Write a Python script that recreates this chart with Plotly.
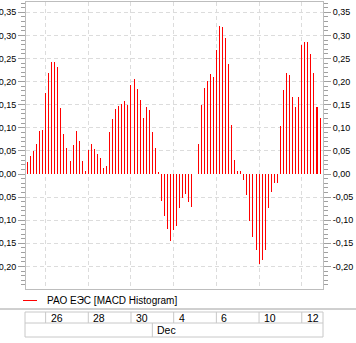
import plotly.graph_objects as go

# ---------------- data ----------------
macd_hist = [
    0.026, 0.039, 0.050, 0.065, 0.093, 0.096, 0.175, 0.218, 0.242, 0.242,
    0.231, 0.143, 0.086, 0.056, 0.028, 0.063, 0.093, 0.071, 0.028, 0.0065,
    0.052, 0.065, 0.054, 0.043, 0.035, 0.013, 0.017, 0.091, 0.119, 0.140,
    0.147, 0.151, 0.158, 0.149, 0.192, 0.205, 0.184, 0.160, 0.121, 0.145,
    0.138, 0.091, 0.056, 0.0043, -0.058, -0.091, -0.119, -0.145, -0.121, -0.112,
    -0.073, -0.052, -0.043, -0.060, -0.071, 0.0, 0.065, 0.149, 0.186, 0.201,
    0.216, 0.2095, 0.268, 0.320, 0.3175, 0.294, 0.238, 0.106, 0.030, 0.0065,
    0.0065, -0.013, -0.045, -0.1015, -0.136, -0.164, -0.194, -0.186, -0.165, -0.073,
    -0.039, -0.019, -0.019, 0.104, 0.181, 0.218, 0.214, 0.166, 0.145, 0.166,
    0.279, 0.285, 0.285, 0.259, 0.218, 0.145, 0.121,
]
day_labels = ["23", "26", "27", "28", "29", "30", "3", "4", "5", "6", "7", "10", "11", "12"]
bars_per_day = [6, 7, 7, 7, 7, 7, 7, 7, 7, 7, 7, 7, 7, 7]
day_months = ["Nov"] * 6 + ["Dec"] * 8
shown_days = ["26", "28", "30", "4", "6", "10", "12"]
y_ticks = [0.35, 0.30, 0.25, 0.20, 0.15, 0.10, 0.05, 0.00, -0.05, -0.10, -0.15, -0.20]
y_tick_text = [f"{v:.2f}".replace(".", ",") for v in y_ticks]
series_name = "РАО ЕЭС [MACD Histogram]"

# ---------------- derived positions ----------------
day_start = []
acc = 0
for n in bars_per_day:
    day_start.append(acc)
    acc += n
tick_pos = [day_start[day_labels.index(d)] for d in shown_days]
month_starts = []
for i, m in enumerate(day_months):
    if i > 0 and m != day_months[i - 1]:
        month_starts.append((day_start[i], m))

W, H = 356, 343
L, R, T, B = 26, 323, 2, 289
PW, PH = R - L, B - T


def px_x(px):
    return (px - L) / PW


def px_y(py):
    return (B - py) / PH


y_range = [-(B - 174) / 462.0, (174 - T) / 462.0]
x_range = [-0.43, 96.97]

FONT = "Liberation Sans, Arial, sans-serif"
GRID = "#dcdcdc"
BORDER = "#bdbdbd"

fig = go.Figure()
fig.add_trace(go.Bar(
    x=list(range(len(macd_hist))), y=macd_hist, width=0.33,
    marker=dict(color="rgba(255,0,0,0.999)", line=dict(width=0)),
    showlegend=False, hoverinfo="skip",
))
fig.add_trace(go.Scatter(x=[None], y=[None], yaxis="y2", showlegend=False, hoverinfo="skip"))

axis_common = dict(
    range=y_range, tickmode="array", tickvals=y_ticks, ticktext=y_tick_text,
    ticks="outside", ticklen=7, tickcolor="#a0a0a0", tickwidth=1,
    tickfont=dict(family=FONT, size=9, color="#000"),
    minor=dict(tickmode="linear", tick0=0, dtick=0.01, ticks="outside", ticklen=4,
               tickcolor="#a0a0a0", showgrid=False),
    showline=True, linecolor=BORDER, linewidth=1, automargin=False,
)

fig.update_layout(
    width=W, height=H,
    margin=dict(l=L, r=W - R, t=T, b=H - B, pad=0, autoexpand=False),
    paper_bgcolor="white", plot_bgcolor="white",
    bargap=0,
    xaxis=dict(range=x_range, tickmode="array", tickvals=tick_pos, showticklabels=False,
               ticks="", showgrid=True, gridcolor=GRID, griddash="4px,3px", gridwidth=1,
               zeroline=False, showline=True, linecolor=BORDER, mirror=True, automargin=False),
    yaxis=dict(**axis_common, side="left", showgrid=True, gridcolor=GRID,
               griddash="4px,3px", zeroline=True, zerolinecolor="white", zerolinewidth=1),
    yaxis2=dict(**axis_common, side="right", overlaying="y", showgrid=False, zeroline=False),
)

shapes = []
annots = []
# legend
shapes.append(dict(type="line", xref="paper", yref="paper", x0=px_x(23), x1=px_x(37),
                   y0=px_y(300.5), y1=px_y(300.5), line=dict(color="#ff0000", width=1)))
annots.append(dict(xref="paper", yref="paper", x=px_x(45), y=px_y(300.5), text=series_name,
                   showarrow=False, xanchor="left", yanchor="middle",
                   font=dict(family=FONT, size=10, color="#000")))
# separator
shapes.append(dict(type="line", xref="paper", yref="paper", x0=px_x(0), x1=px_x(W),
                   y0=px_y(309), y1=px_y(309), line=dict(color="#a0a0a0", width=1)))
# date table
TB = "#c8c8c8"
r1, r2, r3 = 312, 323, 337
for yy in (r1, r2, r3):
    shapes.append(dict(type="line", xref="paper", yref="paper", x0=px_x(25), x1=px_x(R),
                       y0=px_y(yy), y1=px_y(yy), line=dict(color=TB, width=1)))
for xx in (25, R):
    shapes.append(dict(type="line", xref="paper", yref="paper", x0=px_x(xx), x1=px_x(xx),
                       y0=px_y(r1), y1=px_y(r3), line=dict(color=TB, width=1)))
for pos, lab in zip(tick_pos, shown_days):
    shapes.append(dict(type="line", xref="x", yref="paper", x0=pos, x1=pos,
                       y0=px_y(r1), y1=px_y(r2), line=dict(color=TB, width=1)))
    annots.append(dict(xref="x", yref="paper", x=pos, y=px_y((r1 + r2) / 2), text=lab,
                       showarrow=False, xanchor="left", yanchor="middle", xshift=3,
                       font=dict(family=FONT, size=10.5, color="#000")))
for pos, lab in month_starts:
    shapes.append(dict(type="line", xref="x", yref="paper", x0=pos, x1=pos,
                       y0=px_y(r2), y1=px_y(r3), line=dict(color=TB, width=1)))
    annots.append(dict(xref="x", yref="paper", x=pos, y=px_y((r2 + r3) / 2), text=lab,
                       showarrow=False, xanchor="left", yanchor="middle", xshift=3,
                       font=dict(family=FONT, size=10.5, color="#000")))

fig.update_layout(shapes=shapes, annotations=annots)
fig.write_html("out.html")
